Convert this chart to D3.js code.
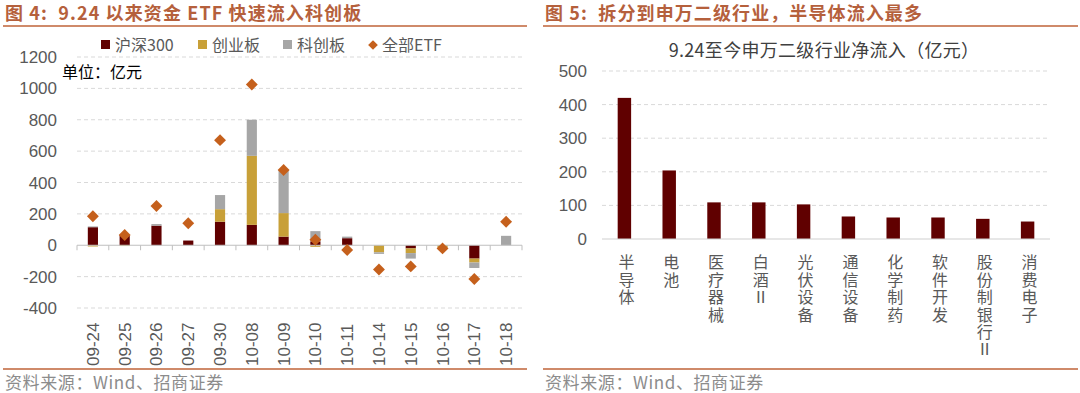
<!DOCTYPE html>
<html>
<head>
<meta charset="utf-8">
<script src="https://cdn.jsdelivr.net/npm/d3@7"></script>
<style>
  body { margin: 0; background: #fff; }
  svg text { font-family: "Liberation Sans", "Noto Sans CJK SC", sans-serif; }
</style>
</head>
<body>
<svg id="chart" width="1080" height="393"></svg>
<script>
// left: daily ETF flows since 9.24 (亿元)
const dates = ["09-24", "09-25", "09-26", "09-27", "09-30", "10-08", "10-09", "10-10", "10-11", "10-14", "10-15", "10-16", "10-17", "10-18"];
const hs300 = [115, 65, 125, 30, 150, 130, 55, 25, 45, 0, -20, 0, -85, 0];
const cyb = [-8, -5, 0, 0, 80, 440, 150, -10, 0, -45, -30, -15, -25, 0];
const kcb = [5, 0, 10, 0, 90, 230, 275, 65, 10, -10, -35, -5, -35, 60];
const allEtf = [185, 65, 250, 140, 670, 1025, 480, 35, -30, -155, -135, -20, -215, 150];
const leftTicks = [1200, 1000, 800, 600, 400, 200, 0, -200, -400];

// right: SW level-2 industry net inflow
const industries = ["半导体", "电池", "医疗器械", "白酒Ⅱ", "光伏设备", "通信设备", "化学制药", "软件开发", "股份制银行Ⅱ", "消费电子"];
const inflow = [420, 204, 109, 109, 103, 67, 64, 64, 60, 52];
const rightTicks = [500, 400, 300, 200, 100, 0];

const titleColor = "#b5603c";
const lineColor = "#cf8a6a";
const axisText = "#595959";
const gridColor = "#d9d9d9";
const colors = { hs300: "#600000", cyb: "#c8a038", kcb: "#a6a6a6", etf: "#c5601c" };

const svg = d3.select("#chart");

// panel headers and footers
function panelFrame(x0, x1, title) {
  svg.append("text").attr("x", x0 + 2).attr("y", 20)
    .attr("fill", titleColor).attr("font-size", 18).attr("font-weight", "bold")
    .attr("letter-spacing", 1.1)
    .style("font-family", "'Noto Sans CJK SC', sans-serif")
    .style("white-space", "pre")
    .text(title);
  svg.append("line").attr("x1", x0).attr("x2", x1).attr("y1", 26).attr("y2", 26)
    .attr("stroke", lineColor).attr("stroke-width", 2);
  svg.append("line").attr("x1", x0).attr("x2", x1).attr("y1", 369).attr("y2", 369)
    .attr("stroke", lineColor).attr("stroke-width", 2);
  svg.append("text").attr("x", x0 + 2).attr("y", 389)
    .attr("fill", "#8c8c8c").attr("font-size", 17).attr("letter-spacing", 0.6)
    .style("font-family", "'Noto Sans CJK SC', sans-serif")
    .text("资料来源：Wind、招商证券");
}
panelFrame(3, 527, "图 4:  9.24 以来资金 ETF 快速流入科创板");
panelFrame(543, 1078, "图 5:  拆分到申万二级行业，半导体流入最多");

// ---------- left chart ----------
const xL = d3.scaleBand().domain(dates).range([77, 522]).paddingInner(0.68).paddingOuter(0.34);
const yL = d3.scaleLinear().domain([-400, 1200]).range([308, 57]);

const gL = svg.append("g");
gL.selectAll("line.grid").data(leftTicks.filter(d => d !== 0)).enter().append("line")
  .attr("x1", 77).attr("x2", 522)
  .attr("y1", d => yL(d)).attr("y2", d => yL(d))
  .attr("stroke", gridColor).attr("stroke-dasharray", "4,3");

gL.selectAll("text.ytick").data(leftTicks).enter().append("text")
  .attr("x", 57).attr("y", d => yL(d) + 6)
  .attr("text-anchor", "end").attr("font-size", 17).attr("fill", axisText)
  .text(d => d);

// stacked bars: positives stack up, negatives stack down
const series = [["hs300", hs300], ["cyb", cyb], ["kcb", kcb]];
dates.forEach((d, i) => {
  let pos = 0, neg = 0;
  series.forEach(([key, vals]) => {
    const v = vals[i];
    if (v === 0) return;
    let y0, y1;
    if (v > 0) { y0 = pos; y1 = pos + v; pos = y1; }
    else { y0 = neg; y1 = neg + v; neg = y1; }
    gL.append("rect")
      .attr("x", xL(d)).attr("width", xL.bandwidth())
      .attr("y", yL(Math.max(y0, y1)))
      .attr("height", Math.abs(yL(y0) - yL(y1)))
      .attr("fill", colors[key]);
  });
});

// zero axis with ticks
gL.append("line").attr("x1", 77).attr("x2", 522).attr("y1", yL(0)).attr("y2", yL(0))
  .attr("stroke", "#bfbfbf").attr("stroke-width", 1.2);
gL.selectAll("line.xtick").data(d3.range(dates.length + 1)).enter().append("line")
  .attr("x1", i => 77 + i * xL.step()).attr("x2", i => 77 + i * xL.step())
  .attr("y1", yL(0)).attr("y2", yL(0) + 5)
  .attr("stroke", "#bfbfbf");

// ETF diamonds
gL.selectAll("path.etf").data(allEtf).enter().append("path")
  .attr("d", d3.symbol().type(d3.symbolDiamond2).size(90))
  .attr("transform", (v, i) => `translate(${xL(dates[i]) + xL.bandwidth() / 2},${yL(v)})`)
  .attr("fill", colors.etf);

// x labels rotated
gL.selectAll("text.xlab").data(dates).enter().append("text")
  .attr("transform", d => `translate(${xL(d) + xL.bandwidth() / 2 + 6},366) rotate(-90)`)
  .attr("font-size", 17).attr("fill", axisText)
  .text(d => d);

svg.append("text").attr("x", 62).attr("y", 78)
  .attr("font-size", 16).attr("fill", "#000")
  .style("font-family", "'Noto Sans CJK SC', sans-serif")
  .text("单位：亿元");

// legend
const legend = [
  { label: "沪深300", key: "hs300", x: 101 },
  { label: "创业板", key: "cyb", x: 198 },
  { label: "科创板", key: "kcb", x: 283 },
  { label: "全部ETF", key: "etf", x: 368 }
];
legend.forEach(l => {
  if (l.key === "etf") {
    svg.append("path").attr("d", d3.symbol().type(d3.symbolDiamond2).size(60))
      .attr("transform", `translate(${l.x + 5},45)`).attr("fill", colors.etf);
  } else {
    svg.append("rect").attr("x", l.x).attr("y", 40).attr("width", 9).attr("height", 9)
      .attr("fill", colors[l.key]);
  }
  svg.append("text").attr("x", l.x + 14).attr("y", 51)
    .attr("font-size", 16).attr("fill", axisText)
    .style("font-family", "'Noto Sans CJK SC', sans-serif")
    .text(l.label);
});

// ---------- right chart ----------
const xR = d3.scaleBand().domain(industries).range([602, 1050]).paddingInner(0.7).paddingOuter(0.35);
const yR = d3.scaleLinear().domain([0, 500]).range([239, 71]);

const gR = svg.append("g");
svg.append("text").attr("x", 824).attr("y", 57).attr("text-anchor", "middle")
  .attr("font-size", 18).attr("fill", "#404040").attr("letter-spacing", 0.3)
  .style("font-family", "'Noto Sans CJK SC', sans-serif")
  .text("9.24至今申万二级行业净流入（亿元）");

gR.selectAll("line.grid").data(rightTicks.filter(d => d !== 0)).enter().append("line")
  .attr("x1", 602).attr("x2", 1050)
  .attr("y1", d => yR(d)).attr("y2", d => yR(d))
  .attr("stroke", gridColor).attr("stroke-dasharray", "4,3");

gR.selectAll("text.ytick").data(rightTicks).enter().append("text")
  .attr("x", 587).attr("y", d => yR(d) + 6)
  .attr("text-anchor", "end").attr("font-size", 17).attr("fill", axisText)
  .text(d => d);

gR.selectAll("rect").data(inflow).enter().append("rect")
  .attr("x", (v, i) => xR(industries[i])).attr("width", xR.bandwidth())
  .attr("y", v => yR(v)).attr("height", v => yR(0) - yR(v))
  .attr("fill", colors.hs300);

gR.append("line").attr("x1", 602).attr("x2", 1050).attr("y1", yR(0)).attr("y2", yR(0))
  .attr("stroke", "#d0d0d0").attr("stroke-width", 1.2);

// vertical labels, characters upright
gR.selectAll("text.xlab").data(industries).enter().append("text")
  .attr("x", d => xR(d) + xR.bandwidth() / 2 + 2)
  .attr("y", 254)
  .attr("font-size", 16).attr("fill", axisText)
  .attr("letter-spacing", 1.5)
  .style("font-family", "'Noto Sans CJK SC', sans-serif")
  .style("writing-mode", "vertical-rl")
  .style("text-orientation", "upright")
  .text(d => d);
</script>
</body>
</html>
